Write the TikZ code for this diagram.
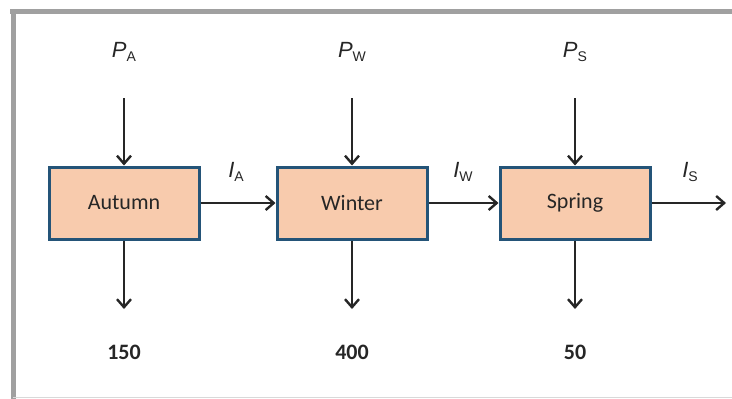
\documentclass[tikz,border=0pt]{standalone}
\usepackage{fontspec}
\setmainfont{Carlito}
\newfontfamily\labfont{Liberation Sans}
\usetikzlibrary{arrows.meta}
\definecolor{boxfill}{RGB}{248,203,173}
\definecolor{boxline}{RGB}{36,84,120}
\definecolor{framegray}{RGB}{160,160,160}
\begin{document}
\begin{tikzpicture}[x=1pt,y=-1pt,
  season/.style={draw=boxline,fill=boxfill,line width=3pt,minimum width=150pt,minimum height=72pt,inner sep=0pt,font=\fontsize{22}{24}\selectfont,text=black!85},
  flow/.style={line width=2.4pt,black!85,-{Straight Barb[length=8pt,width=14pt,line width=2.4pt]}},
  plab/.style={font=\labfont\fontsize{22}{24}\selectfont,text=black!85,inner sep=0pt},
  num/.style={font=\bfseries\fontsize{22}{24}\selectfont,text=black!85,inner sep=0pt}]
\useasboundingbox (0,0) rectangle (732,399);
% frame
\draw[framegray,line width=5pt] (10,11) -- (732,11);
\draw[framegray,line width=5pt] (13,9) -- (13,399);
\draw[black!15,line width=1.5pt] (13,397.5) -- (732,397.5);
% boxes
\node[season] (aut) at (124,203) {Autumn};
\node[season] (win) at (352,203) {Winter};
\node[season] (spr) at (575,203) {Spring};
% P labels
\node[plab] (pa) at (124,52) {\textit{P}\raisebox{-0.4ex}{\fontsize{14}{14}\selectfont A}};
\node[plab] (pw) at (352,52) {\textit{P}\raisebox{-0.4ex}{\fontsize{14}{14}\selectfont W}};
\node[plab] (ps) at (575,52) {\textit{P}\raisebox{-0.4ex}{\fontsize{14}{14}\selectfont S}};
\coordinate (pat) at (124,98);
\coordinate (pwt) at (352,98);
\coordinate (pst) at (575,98);
\draw[flow] (pat) -- (aut.north);
\draw[flow] (pwt) -- (win.north);
\draw[flow] (pst) -- (spr.north);
% outputs
\coordinate (ab) at (124,309);
\coordinate (wb) at (352,309);
\coordinate (sb) at (575,309);
\draw[flow] (aut.south) -- (ab);
\draw[flow] (win.south) -- (wb);
\draw[flow] (spr.south) -- (sb);
\node[num] (n1) at (124,352) {150};
\node[num] (n2) at (352,352) {400};
\node[num] (n3) at (575,352) {50};
% I flows
\draw[flow] (aut.east) -- (win.west);
\draw[flow] (win.east) -- (spr.west);
\coordinate (out) at (726,203);
\draw[flow] (spr.east) -- (out);
\node[plab] (ia) at (236,172) {\textit{I}\raisebox{-0.4ex}{\fontsize{14}{14}\selectfont A}};
\node[plab] (iw) at (463,172) {\textit{I}\raisebox{-0.4ex}{\fontsize{14}{14}\selectfont W}};
\node[plab] (is) at (690,172) {\textit{I}\raisebox{-0.4ex}{\fontsize{14}{14}\selectfont S}};
\end{tikzpicture}
\end{document}
